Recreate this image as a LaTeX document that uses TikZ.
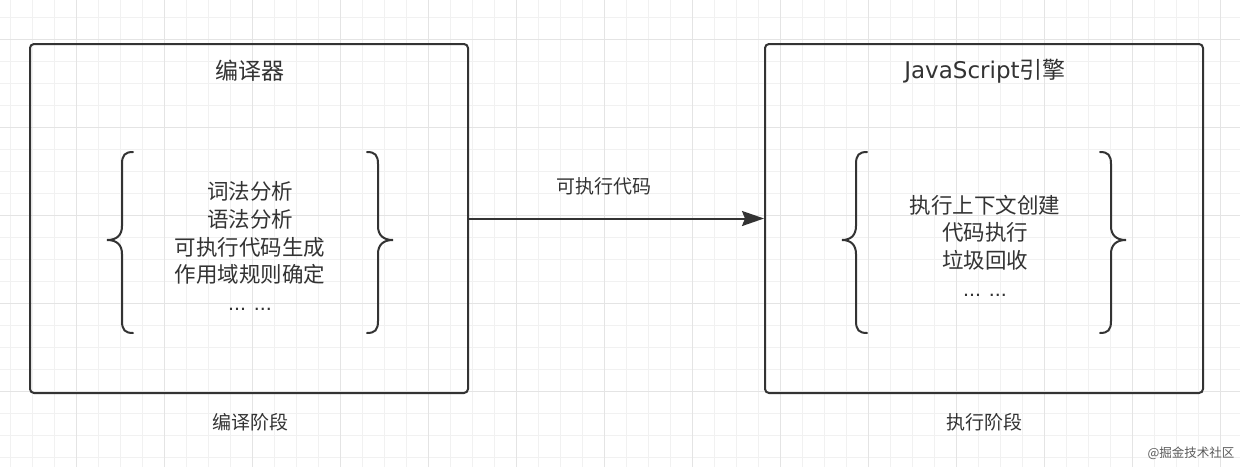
\documentclass[tikz,border=0pt]{standalone}
\usepackage{fontspec}
\setmainfont{Noto Sans CJK SC}
\newfontfamily\latinfont{DejaVu Sans}
\newfontfamily\dotfont{Liberation Sans}
\usetikzlibrary{arrows.meta}
\definecolor{ink}{HTML}{333333}
\definecolor{txt}{HTML}{333333}
\definecolor{gridminor}{HTML}{F1F1F1}
\definecolor{gridmajor}{HTML}{E4E4E4}
\begin{document}
\begin{tikzpicture}[x=1pt,y=-1pt,
  box/.style={draw=ink, line width=2pt, rounded corners=4pt, minimum width=438pt, minimum height=349pt, inner sep=0pt},
  brc/.style={draw=ink, line width=2pt, line cap=round},
  title/.style={text=txt, inner sep=0pt, font=\fontsize{23}{28}\selectfont},
  list/.style={text=txt, inner sep=0pt, align=center, font=\fontsize{21.5}{27.7}\selectfont},
  label/.style={text=txt, inner sep=0pt, font=\fontsize{19}{23}\selectfont},
  conn/.style={draw=ink, line width=2pt, -{Stealth[length=22pt, width=15pt, inset=3pt]}}
]
\useasboundingbox (0,0) rectangle (1240,467);
\fill[white] (0,0) rectangle (1240,467);
% grid
\foreach \x in {10,32,...,1240} \draw[gridminor, line width=1pt] (\x,0) -- (\x,467);
\foreach \y in {17.3,39.3,...,467} \draw[gridminor, line width=1pt] (0,\y) -- (1240,\y);
\foreach \x in {76,164,...,1240} \draw[gridmajor, line width=1pt] (\x,0) -- (\x,467);
\foreach \y in {39.3,127.3,...,467} \draw[gridmajor, line width=1pt] (0,\y) -- (1240,\y);
% boxes
\node[box] (comp) at (249,218.5) {};
\node[box] (eng) at (984,218.5) {};
\node[title] (comptitle) at (250,71) {编译器};
\node[title] (engtitle) at (985,71) {{\latinfont JavaScript}引擎};
% braces
\draw[brc] (133,152) .. controls (125,152) and (122,155) .. (122,164) -- (122,226) .. controls (122,235) and (117,240) .. (107,240) .. controls (117,240) and (122,245) .. (122,254) -- (122,321) .. controls (122,330) and (125,333) .. (133,333);
\draw[brc] (367,152) .. controls (375,152) and (378,155) .. (378,164) -- (378,226) .. controls (378,235) and (383,240) .. (393,240) .. controls (383,240) and (378,245) .. (378,254) -- (378,321) .. controls (378,330) and (375,333) .. (367,333);
\draw[brc] (867,152) .. controls (859,152) and (856,155) .. (856,164) -- (856,226) .. controls (856,235) and (851,240) .. (842,240) .. controls (851,240) and (856,245) .. (856,254) -- (856,321) .. controls (856,330) and (859,333) .. (867,333);
\draw[brc] (1100,152) .. controls (1108,152) and (1111,155) .. (1111,164) -- (1111,226) .. controls (1111,235) and (1116,240) .. (1126,240) .. controls (1116,240) and (1111,245) .. (1111,254) -- (1111,321) .. controls (1111,330) and (1108,333) .. (1100,333);
% lists
\node[list] (complist) at (250,246) {词法分析\\语法分析\\可执行代码生成\\作用域规则确定\\{\dotfont ... ...}};
\node[list] (englist) at (985,245.5) {执行上下文创建\\代码执行\\垃圾回收\\{\dotfont ... ...}};
% connector
\draw[conn] (comp.east) -- (eng.west);
\node[label] (arrowlabel) at (603.5,186) {可执行代码};
% stage labels
\node[label] (compstage) at (250.5,422) {编译阶段};
\node[label] (engstage) at (984,422) {执行阶段};
% watermark
\node[text=black!65, inner sep=0pt, font=\fontsize{12.5}{15}\selectfont] (wm) at (1191,453) {@掘金技术社区};
\end{tikzpicture}
\end{document}
